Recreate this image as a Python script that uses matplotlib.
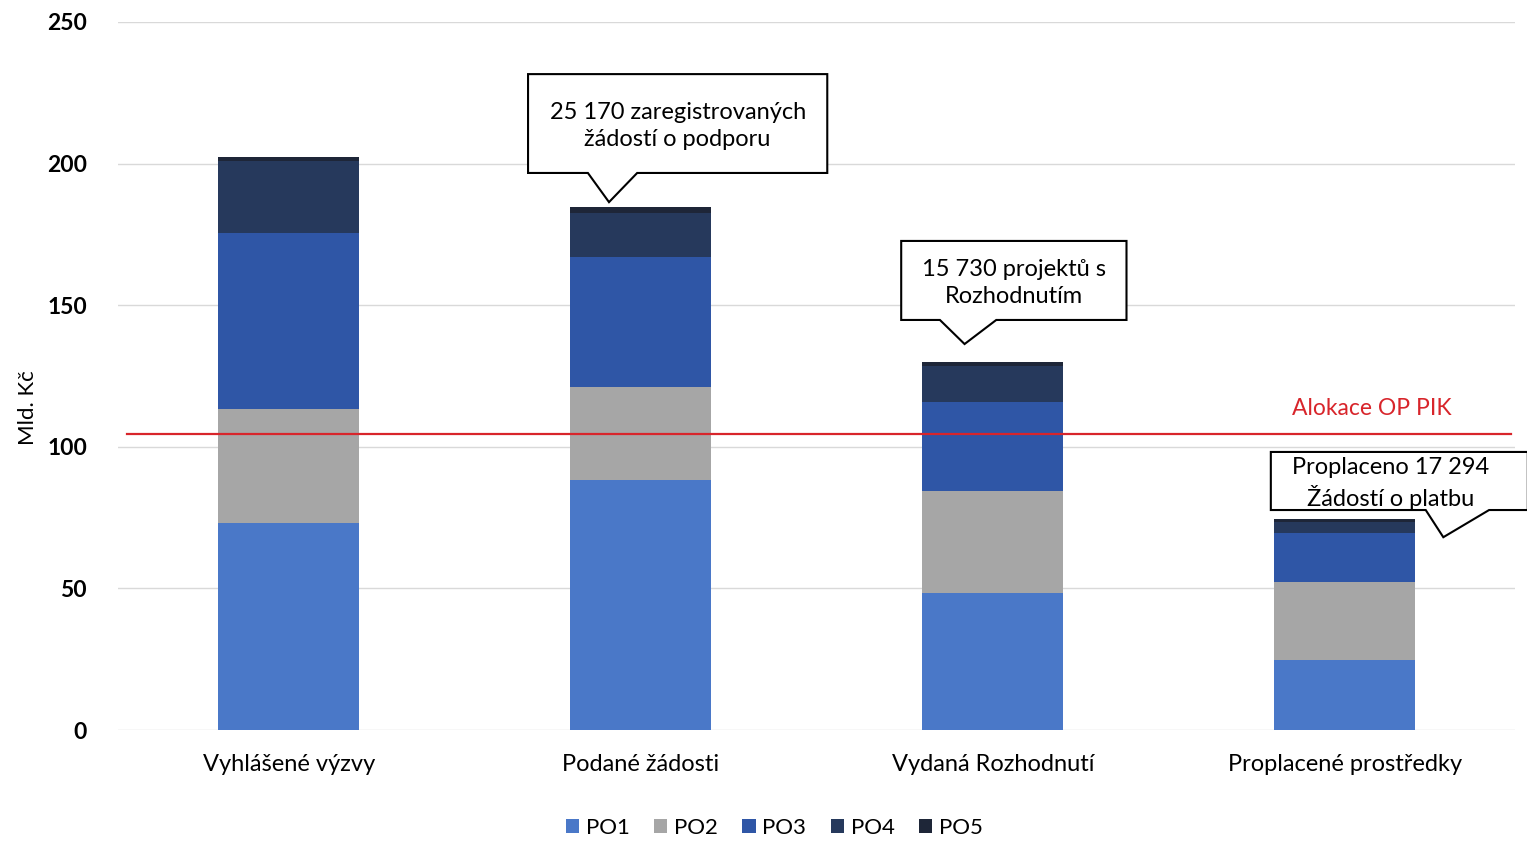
import matplotlib
matplotlib.use("Agg")
import matplotlib.pyplot as plt
from matplotlib.patches import Polygon
import numpy as np

plt.rcParams['font.family'] = ['Lato', 'DejaVu Sans']

categories = ["Vyhlášené výzvy", "Podané žádosti", "Vydaná Rozhodnutí", "Proplacené prostředky"]
series = ["PO1", "PO2", "PO3", "PO4", "PO5"]
po1 = [73.0, 88.3, 48.4, 24.7]
po2 = [40.5, 32.8, 36.0, 27.6]
po3 = [62.0, 46.0, 31.4, 17.3]
po4 = [25.5, 15.5, 12.7, 4.0]
po5 = [1.5, 2.0, 1.5, 1.0]
colors = ["#4a78c8", "#a6a6a6", "#2f56a6", "#26395c", "#1e2638"]
allocation = 104.5

# callouts: text, box (x0, x1, ybottom, ytop), pointer (base left, base right, tip x, tip y)
callouts = [
    ("25 170 zaregistrovaných\nžádostí o podporu", (0.68, 1.53, 196.7, 231.6), (0.85, 0.99, 0.91, 186.4)),
    ("15 730 projektů s\nRozhodnutím", (1.74, 2.38, 144.8, 172.7), (1.85, 2.01, 1.92, 136.3)),
    ("Proplaceno 17 294\nŽádostí o platbu", (2.79, 3.52, 77.7, 98.2), (3.23, 3.41, 3.28, 68.1)),
]

fig = plt.figure(figsize=(15.27, 8.46), dpi=100)
ax = fig.add_axes([0.077, 0.137, 0.915, 0.837])

x = np.arange(len(categories))
bottom = np.zeros(len(categories))
for name, vals, c in zip(series, [po1, po2, po3, po4, po5], colors):
    ax.bar(x, vals, width=0.4, bottom=bottom, color=c, label=name, zorder=2)
    bottom += np.array(vals)

ax.axhline(allocation, xmin=0.007, xmax=0.997, color="#d8252b", lw=1.6, zorder=3)
ax.text(3.077, allocation + 9, "Alokace OP PIK", color="#d8252b", fontsize=16.5,
        ha="center", va="center")

for txt, (x0, x1, yb, yt), (bl, br, tx, ty) in callouts:
    pts = [(x0, yt), (x1, yt), (x1, yb), (br, yb), (tx, ty), (bl, yb), (x0, yb)]
    ax.add_patch(Polygon(pts, closed=True, facecolor="white", edgecolor="black",
                         lw=1.5, zorder=5, clip_on=False))
    ax.text((x0 + min(x1, 3.47)) / 2, (yb + yt) / 2 - 1, txt, ha="center", va="center",
            fontsize=17, linespacing=1.35, zorder=6, clip_on=False)

ax.set_xlim(-0.486, 3.483)
ax.set_ylim(0, 250)
ax.set_yticks([0, 50, 100, 150, 200, 250])
ax.set_xticks(x)
ax.set_xticklabels(categories, fontsize=17)
ax.tick_params(axis="y", labelsize=16.5, length=0, pad=22)
ax.tick_params(axis="x", length=0, pad=17)
for lab in ax.get_yticklabels():
    lab.set_fontweight("bold")
ax.grid(axis="y", color="#d9d9d9", lw=1, zorder=0)
for s in ax.spines.values():
    s.set_visible(False)
ax.set_ylabel("Mld. Kč", fontsize=16)
ax.yaxis.set_label_coords(-0.057, 0.456)

fig.legend(loc="lower center", ncol=5, frameon=False, fontsize=16,
           bbox_to_anchor=(0.507, -0.014), handlelength=0.6, handleheight=0.6,
           handletextpad=0.3, columnspacing=1.1)

fig.savefig("out.png", dpi=100)
